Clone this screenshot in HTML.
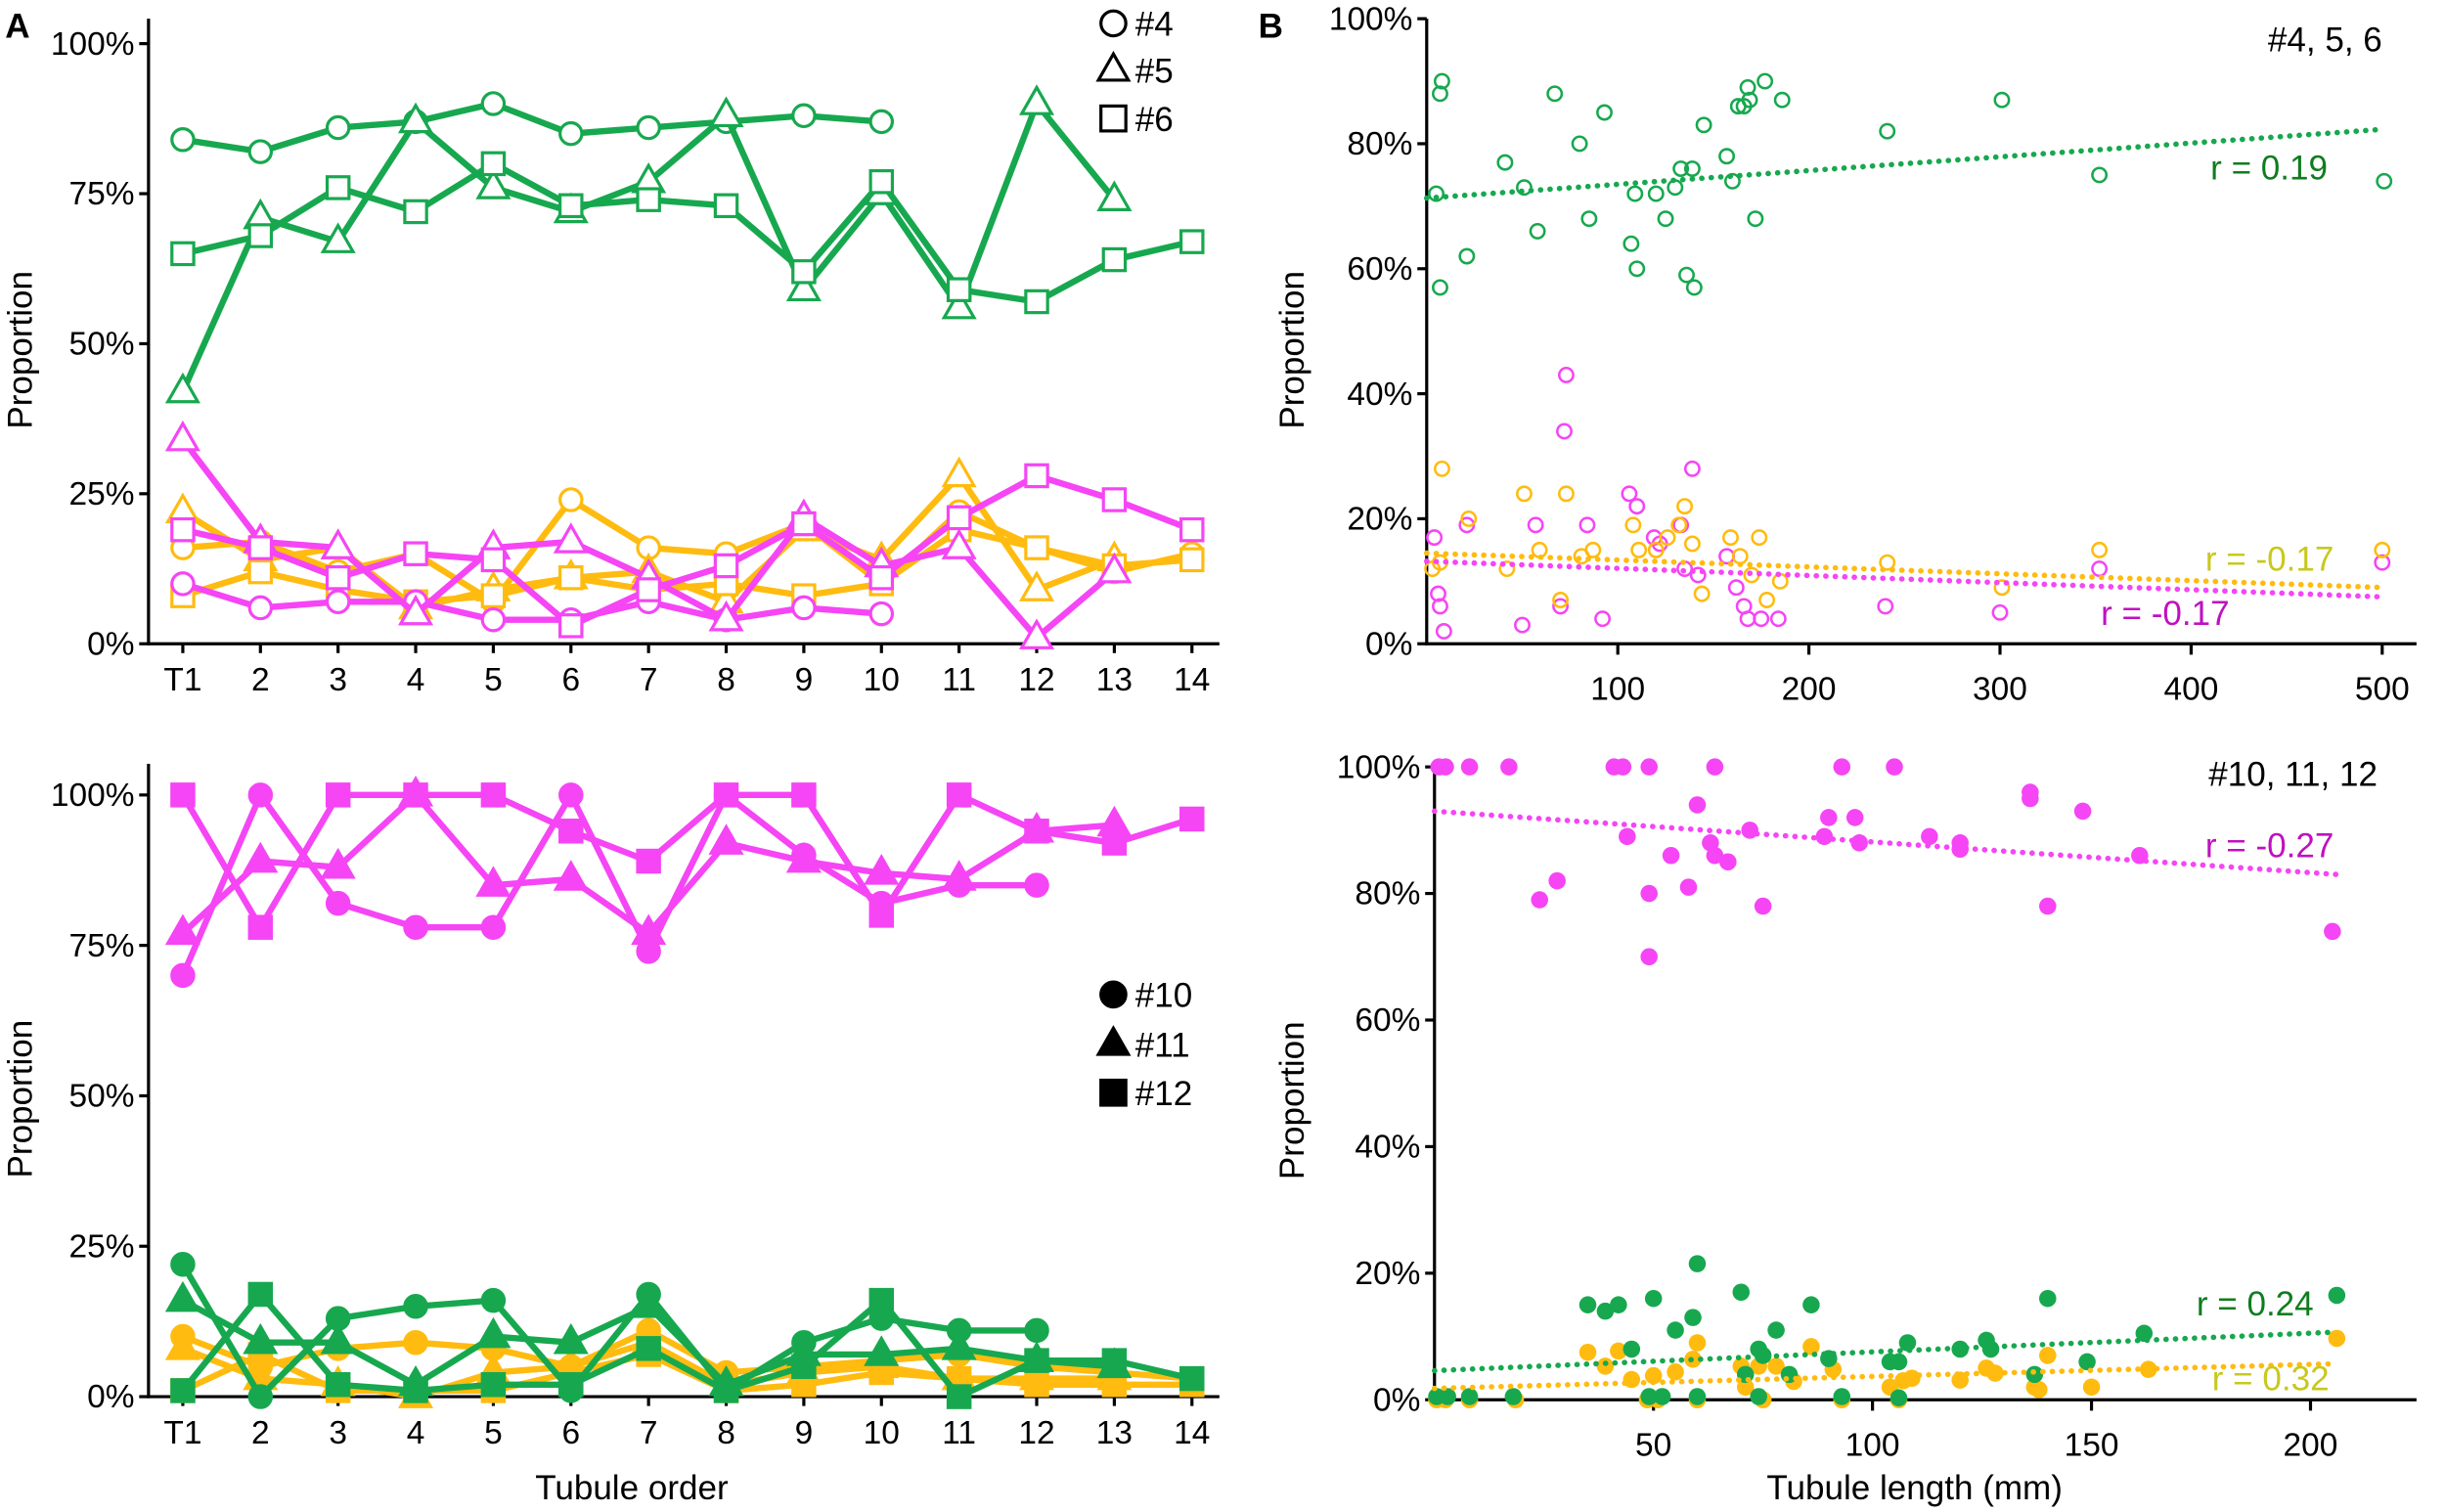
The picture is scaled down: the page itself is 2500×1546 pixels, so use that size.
<!DOCTYPE html>
<html><head><meta charset="utf-8"><style>
html,body{margin:0;padding:0;background:#fff;}
svg{display:block;font-family:"Liberation Sans",Arial,sans-serif;}
</style></head><body>
<svg id="fig" width="2500" height="1546" viewBox="0 0 1568 970" xmlns="http://www.w3.org/2000/svg">
<rect width="1568" height="970" fill="#fff"/>
<g id="g"></g>
</svg>
<script>
// ---------- DATA ----------
const orderLabels = ["T1","2","3","4","5","6","7","8","9","10","11","12","13","14"];
const pctTicksA = ["0%","25%","50%","75%","100%"];
const pctValsA = [0,25,50,75,100];
// Panel A top (open markers, #4 circle, #5 triangle, #6 square)
const aTopGreen4 = [84,82,86,87,90,85,86,87,88,87];
const aTopGreen5 = [42,71,67,87,76,72,77,88,59,75,56,90,74];
const aTopGreen6 = [65,68,76,72,80,73,74,73,62,77,59,57,64,67];
const aTopMag4 = [10,6,7,7,4,4,7,4,6,5];
const aTopMag5 = [34,17,16,5,16,17,11,4,21,13,16,1,12];
const aTopMag6 = [19,16,11,15,14,3,9,13,20,11,21,28,24,19];
const aTopOr4 = [16,17,12,15,7,24,16,15,20,10,22,16,12,15];
const aTopOr5 = [22,14,16,6,9,11,12,7,19,14,28,9,14];
const aTopOr6 = [8,12,9,7,8,11,9,10,8,10,19,16,13,14];
// Panel A bottom (filled markers, #10 circle, #11 triangle, #12 square)
const aBotMag10 = [70,100,82,78,78,100,74,100,90,82,85,85];
const aBotMag11 = [77,89,88,100,85,86,77,92,89,87,86,94,95];
const aBotMag12 = [100,78,100,100,100,94,89,100,100,80,100,94,92,96];
const aBotGreen10 = [22,0,13,15,16,1,17,1,9,13,11,11];
const aBotGreen11 = [16,9,9,2,10,9,15,2,7,7,8,6,5];
const aBotGreen12 = [1,17,2,1,2,2,8,1,5,16,0,6,6,3];
const aBotOr10 = [10,5,8,9,8,5,11,4,5,6,7,5,4,3];
const aBotOr11 = [8,3,2,0,4,5,9,2,4,5,3,3,3];
const aBotOr12 = [1,7,1,1,1,4,7,1,2,4,3,2,2,2];
// Panel B top: [length, pct]
const bTopGreen = [[5,72],[7,88],[8,90],[7,57],[21,62],[41,77],[51,73],[58,66],[67,88],[80,80],[85,68],[93,85],[107,64],[109,72],[110,60],[120,72],[125,68],[130,73],[133,76],[136,59],[139,76],[140,57],[145,83],[157,78],[160,74],[163,86],[166,86],[168,89],[169,87],[172,68],[177,90],[186,87],[241,82],[301,87],[352,75],[501,74]];
const bTopMag = [[4,17],[6,8],[7,6],[9,2],[21,19],[50,3],[57,19],[70,6],[72,34],[73,43],[84,19],[92,4],[106,24],[110,22],[119,17],[122,16],[133,19],[135,12],[139,28],[142,11],[157,14],[162,9],[166,6],[168,4],[175,4],[184,4],[240,6],[300,5],[352,12],[500,13]];
const bTopOr = [[3,12],[7,13],[8,28],[22,20],[42,12],[51,24],[59,15],[70,7],[73,24],[81,14],[87,15],[108,19],[111,15],[120,15],[126,17],[132,19],[135,22],[139,16],[144,8],[159,17],[164,14],[170,11],[174,17],[178,7],[185,10],[241,13],[301,9],[352,15],[500,15]];
const bTopTrendGreen = [0,71.3,500,82.3];
const bTopTrendOr = [0,14.5,500,9];
const bTopTrendMag = [0,13.2,500,7.5];
const bTopXTicks = [100,200,300,400,500];
const bPctTicks = [0,20,40,60,80,100];
// Panel B bottom
const bBotMag = [[1,100],[2.5,100],[8,100],[17,100],[41,100],[43,100],[49,100],[64,100],[93,100],[105,100],[24,79],[28,82],[44,89],[49,80],[54,86],[58,81],[49,70],[60,94],[63,88],[64,86],[67,85],[72,90],[75,78],[89,89],[90,92],[96,92],[97,88],[113,89],[120,87],[120,88],[136,95],[136,96],[140,78],[148,93],[161,86],[205,74]];
const bBotGreen = [[0.5,0.5],[3,0.5],[8,0.5],[18,0.5],[35,15],[39,14],[42,15],[45,8],[50,16],[49,0.5],[52,0.5],[55,11],[59,13],[60,21.5],[60,0.5],[70,17],[71,4],[74,8],[75,7],[74,0.5],[78,11],[81,4],[86,15],[90,6.5],[93,0.5],[104,6],[106,6],[106,0.3],[108,9],[120,8],[126,9.4],[127,8],[137,4],[140,16],[149,6],[162,10.5],[206,16.5]];
const bBotOr = [[0.5,0],[2.5,0],[8,0],[18.5,0],[35,7.5],[39,5.3],[42,7.7],[45,3.2],[50,3.8],[48.6,0],[51,0],[55,4.4],[59,6.4],[60,9],[60,0],[71,2],[70,5.3],[75,0],[74,5.3],[78,5.3],[82,2.9],[86,8.4],[91,4.8],[93,0],[104,2],[106,0],[107,3],[109,3.4],[120,3.1],[126,5],[128,4.2],[137,2],[138,1.6],[140,7],[150,2],[163,4.8],[206,9.7]];
const bBotTrendGreen = [0,4.6,206,10.7];
const bBotTrendOr = [0,1.8,206,5.7];
const bBotTrendMag = [0,93,206,83];
const bBotXTicks = [50,100,150,200];

// ---------- DRAW ----------
const G = document.getElementById('g');
const NS = "http://www.w3.org/2000/svg";
const GREEN="#17a84f", MAG="#f545f5", OR="#ffbb0f";
function mk(tag, attrs, parent){
  const e=document.createElementNS(NS,tag);
  for(const k in attrs) e.setAttribute(k,attrs[k]);
  (parent||G).appendChild(e); return e;
}
function txt(s,x,y,size,anchor,fill,parent,extra){
  const t=mk('text',Object.assign({x:x,y:y,'font-size':size,'text-anchor':anchor||'start',fill:fill||'#000'},extra||{}),parent);
  t.textContent=s; return t;
}
function marker(type,x,y,color,filled,parent,s){
  s=s||7; const f=filled?color:'#fff'; let e;
  if(type==='c') e=mk('circle',{cx:x,cy:y,r:s,fill:f,stroke:color,'stroke-width':2},parent);
  else if(type==='t') e=mk('polygon',{points:`${x},${y-s*1.3} ${x-s*1.2},${y+s*0.8} ${x+s*1.2},${y+s*0.8}`,fill:f,stroke:color,'stroke-width':2},parent);
  else e=mk('rect',{x:x-s,y:y-s,width:2*s,height:2*s,fill:f,stroke:color,'stroke-width':2},parent);
  return e;
}
// Panel A scales
const xA = i => 117 + i*49.8;
const yAt = v => 413 - v*3.85;
const yAb = v => 896 - v*3.86;

function axesA(y0,yTop,yFn,name){
  const g=mk('g',{});  
  mk('line',{x1:95,y1:yTop,x2:95,y2:y0+1,stroke:'#000','stroke-width':2},g);
  mk('line',{x1:94,y1:y0,x2:782,y2:y0,stroke:'#000','stroke-width':2},g);
  pctValsA.forEach((v,i)=>{
    mk('line',{x1:89,y1:yFn(v),x2:95,y2:yFn(v),stroke:'#000','stroke-width':2},g);
    const t=txt(pctTicksA[i],86,yFn(v)+7,21,'end','#000',g);
     
  });
  orderLabels.forEach((l,i)=>{
    mk('line',{x1:xA(i),y1:y0,x2:xA(i),y2:y0+6,stroke:'#000','stroke-width':2},g);
    const t=txt(l,xA(i),y0+30,21,'middle','#000',g);
     
  });
  const yt=txt('Proportion',0,0,22,'middle','#000',g,{transform:`translate(20,${(y0+yTop)/2+12}) rotate(-90)`});
   
}
function seriesA(vals,yFn,color,type,filled,name){
  const g=mk('g',{});  
  const pts=vals.map((v,i)=>`${xA(i)},${yFn(v)}`).join(' ');
  mk('polyline',{points:pts,fill:'none',stroke:color,'stroke-width':4,'stroke-linejoin':'round'},g);
  vals.forEach((v,i)=>{ const m=marker(type,xA(i),yFn(v),color,filled,g, type==='t'?8:7);
      });
}
axesA(413,12,yAt,'panel-a-top');
axesA(896,490,yAb,'panel-a-bottom');
seriesA(aTopOr4,yAt,OR,'c',false,'a-top-orange-4');
seriesA(aTopOr5,yAt,OR,'t',false,'a-top-orange-5');
seriesA(aTopOr6,yAt,OR,'s',false,'a-top-orange-6');
seriesA(aTopMag4,yAt,MAG,'c',false,'a-top-magenta-4');
seriesA(aTopMag5,yAt,MAG,'t',false,'a-top-magenta-5');
seriesA(aTopMag6,yAt,MAG,'s',false,'a-top-magenta-6');
seriesA(aTopGreen4,yAt,GREEN,'c',false,'a-top-green-4');
seriesA(aTopGreen5,yAt,GREEN,'t',false,'a-top-green-5');
seriesA(aTopGreen6,yAt,GREEN,'s',false,'a-top-green-6');
seriesA(aBotOr10,yAb,OR,'c',true,'a-bottom-orange-10');
seriesA(aBotOr11,yAb,OR,'t',true,'a-bottom-orange-11');
seriesA(aBotOr12,yAb,OR,'s',true,'a-bottom-orange-12');
seriesA(aBotGreen10,yAb,GREEN,'c',true,'a-bottom-green-10');
seriesA(aBotGreen11,yAb,GREEN,'t',true,'a-bottom-green-11');
seriesA(aBotGreen12,yAb,GREEN,'s',true,'a-bottom-green-12');
seriesA(aBotMag10,yAb,MAG,'c',true,'a-bottom-magenta-10');
seriesA(aBotMag11,yAb,MAG,'t',true,'a-bottom-magenta-11');
seriesA(aBotMag12,yAb,MAG,'s',true,'a-bottom-magenta-12');
// legends
[['c','#4',15],['t','#5',45],['s','#6',76]].forEach(d=>{
  const g=mk('g',{});  
  marker(d[0],714,d[2],'#000',false,g,d[0]==='t'?8:8); txt(d[1],728,d[2]+8,22,'start','#000',g);
});
[['c','#10',638],['t','#11',670],['s','#12',701]].forEach(d=>{
  const g=mk('g',{});  
  marker(d[0],714,d[2],'#000',true,g,8); txt(d[1],728,d[2]+8,22,'start','#000',g);
});
let t=txt('Tubule order',405,962,22,'middle','#000');  
t=txt('A',3,24,22,'start','#000',G,{'font-weight':'bold'});  
t=txt('B',807,24,22,'start','#000',G,{'font-weight':'bold'});  

// Panel B
function panelB(cfg){
  const g=mk('g',{});  
  const X=v=>cfg.x0+v*cfg.kx, Y=v=>cfg.y0-v*cfg.ky;
  mk('line',{x1:cfg.x0,y1:cfg.yTop,x2:cfg.x0,y2:cfg.y0+1,stroke:'#000','stroke-width':2},g);
  mk('line',{x1:cfg.x0-1,y1:cfg.y0,x2:1550,y2:cfg.y0,stroke:'#000','stroke-width':2},g);
  bPctTicks.forEach(v=>{
    mk('line',{x1:cfg.x0-6,y1:Y(v),x2:cfg.x0,y2:Y(v),stroke:'#000','stroke-width':2},g);
    const tt=txt(v+'%',cfg.x0-9,Y(v)+7,21,'end','#000',g);  
  });
  cfg.xt.forEach(v=>{
    mk('line',{x1:X(v),y1:cfg.y0,x2:X(v),y2:cfg.y0+7,stroke:'#000','stroke-width':2},g);
    const tt=txt(String(v),X(v),cfg.y0+36,21,'middle','#000',g);  
  });
  const yt=txt('Proportion',0,0,22,'middle','#000',g,{transform:`translate(836,${(cfg.y0+cfg.yTop)/2+12}) rotate(-90)`});
   
  cfg.series.forEach(s=>{
    const sg=mk('g',{});  
    s.pts.forEach(p=>{ const c=mk('circle',{cx:X(p[0]),cy:Y(p[1]),r:cfg.filled?5.5:4.5,fill:cfg.filled?s.color:'none',stroke:s.color,'stroke-width':cfg.filled?0:1.6},sg);
        });
  });
  cfg.trends.forEach(tr=>{
    const l=mk('line',{x1:X(tr.d[0]),y1:Y(tr.d[1]),x2:X(tr.d[2]),y2:Y(tr.d[3]),stroke:tr.color,'stroke-width':3.5,'stroke-dasharray':'0.1 6','stroke-linecap':'round'});
     
  });
  cfg.labels.forEach(lb=>{ const tt=txt(lb[0],lb[1],lb[2],22,lb[4]||'start',lb[3]);   });
}
panelB({name:'panel-b-top',x0:915,kx:1.226,y0:413,ky:4.01,yTop:12,xt:bTopXTicks,filled:false,
  series:[{name:'b-top-magenta',pts:bTopMag,color:MAG},{name:'b-top-orange',pts:bTopOr,color:OR},{name:'b-top-green',pts:bTopGreen,color:GREEN}],
  trends:[{d:bTopTrendGreen,color:GREEN},{d:bTopTrendOr,color:OR},{d:bTopTrendMag,color:MAG}],
  labels:[['#4, 5, 6',1528,33,'#000','end'],['r = 0.19',1493,115,'#0f7d1f','end'],['r = -0.17',1497,366,'#c8c81e','end'],['r = -0.17',1430,401,'#c010c0','end']]});
panelB({name:'panel-b-bottom',x0:920,kx:2.81,y0:898,ky:4.06,yTop:490,xt:bBotXTicks,filled:true,
  series:[{name:'b-bottom-magenta',pts:bBotMag,color:MAG},{name:'b-bottom-orange',pts:bBotOr,color:OR},{name:'b-bottom-green',pts:bBotGreen,color:GREEN}],
  trends:[{d:bBotTrendGreen,color:GREEN},{d:bBotTrendOr,color:OR},{d:bBotTrendMag,color:MAG}],
  labels:[['#10, 11, 12',1525,504,'#000','end'],['r = -0.27',1497,550,'#c010c0','end'],['r = 0.24',1484,844,'#0f7d1f','end'],['r = 0.32',1494,892,'#c8c81e','end']]});
t=txt('Tubule length (mm)',1228,962,22,'middle','#000');  
</script>
</body></html>
